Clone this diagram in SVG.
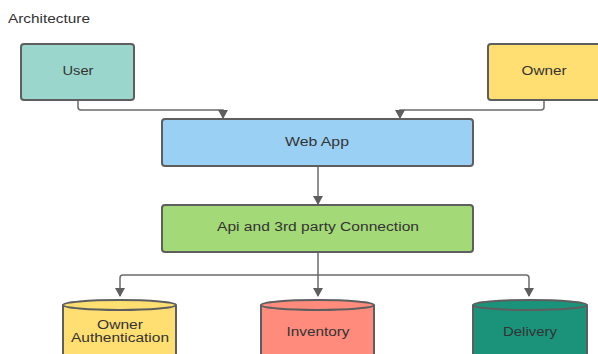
<svg xmlns="http://www.w3.org/2000/svg" width="598" height="354" viewBox="0 0 598 354">
<style>
.box{stroke:#5e5e5e;stroke-width:2}
.t{font-family:"Liberation Sans",Arial,sans-serif;font-size:12.5px;fill:#333;text-anchor:middle}
.c{fill:none;stroke:#6b6b6b;stroke-width:1.5}
</style>
<defs>
<marker id="ah" markerWidth="10" markerHeight="10" refX="8" refY="5" orient="auto" markerUnits="userSpaceOnUse">
<path d="M0,0 L9,5 L0,10 Z" fill="#5e5e5e"/>
</marker>
</defs>
<rect width="598" height="354" fill="#fff"/>
<text x="8" y="23" style="font-family:'Liberation Sans',Arial,sans-serif;font-size:12px;fill:#333" textLength="82" lengthAdjust="spacingAndGlyphs">Architecture</text>
<g id="connectors">
<path class="c" d="M78,101 V107 Q78,110 81,110 H223 V118" marker-end="url(#ah)"/>
<path class="c" d="M544,101 V107 Q544,110 541,110 H400 V118" marker-end="url(#ah)"/>
<path class="c" d="M318,167 V204" marker-end="url(#ah)"/>
<path class="c" d="M318,253 V296" marker-end="url(#ah)"/>
<path class="c" d="M318,275 H123 Q120,275 120,278 V296" marker-end="url(#ah)"/>
<path class="c" d="M318,275 H526 Q529,275 529,278 V296" marker-end="url(#ah)"/>
</g>
<g id="user">
<rect class="box" x="21" y="44" width="113" height="56" rx="3" fill="#9ad6cb"/>
<text class="t" x="78" y="75" textLength="31" lengthAdjust="spacingAndGlyphs">User</text>
</g>
<g id="owner">
<rect class="box" x="488" y="44" width="116" height="56" rx="3" fill="#ffdf71"/>
<text class="t" x="544" y="75" textLength="45" lengthAdjust="spacingAndGlyphs">Owner</text>
</g>
<g id="webapp">
<rect class="box" x="162" y="119" width="311" height="47" rx="3" fill="#99d0f3"/>
<text class="t" x="317" y="146" textLength="64" lengthAdjust="spacingAndGlyphs">Web App</text>
</g>
<g id="api">
<rect class="box" x="162" y="205" width="311" height="47" rx="3" fill="#a3d977"/>
<text class="t" x="318" y="231" textLength="202" lengthAdjust="spacingAndGlyphs">Api and 3rd party Connection</text>
</g>
<g id="ownerauth">
<path class="box" d="M63,305 A56.5,5 0 0 1 176,305 V360 H63 Z" fill="#ffdf71"/>
<path class="box" d="M63,305 A56.5,5 0 0 0 176,305" fill="none"/>
<text class="t" x="120" y="329" textLength="46" lengthAdjust="spacingAndGlyphs">Owner</text>
<text class="t" x="120" y="342" textLength="98" lengthAdjust="spacingAndGlyphs">Authentication</text>
</g>
<g id="inventory">
<path class="box" d="M261,305 A56.5,5 0 0 1 374,305 V360 H261 Z" fill="#ff8b7d"/>
<path class="box" d="M261,305 A56.5,5 0 0 0 374,305" fill="none"/>
<text class="t" x="318" y="336" textLength="63" lengthAdjust="spacingAndGlyphs">Inventory</text>
</g>
<g id="delivery">
<path class="box" d="M473,305 A57,5 0 0 1 587,305 V360 H473 Z" fill="#1a937a"/>
<path class="box" d="M473,305 A57,5 0 0 0 587,305" fill="none"/>
<text class="t" x="530" y="336" textLength="54" lengthAdjust="spacingAndGlyphs">Delivery</text>
</g>
</svg>
